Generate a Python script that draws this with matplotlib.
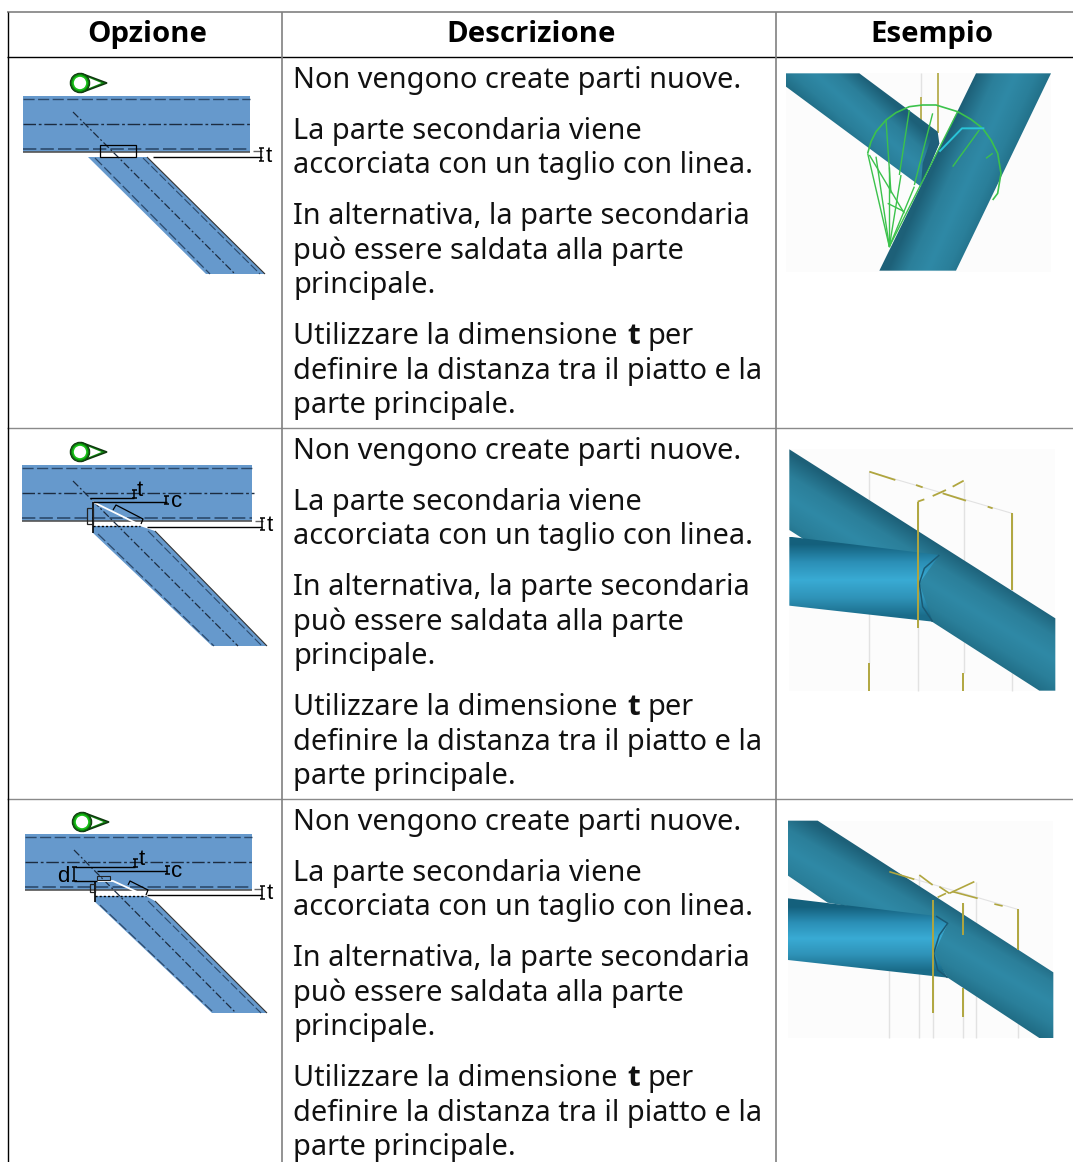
import numpy as np
from matplotlib import pyplot as plt
from matplotlib.patches import Polygon, Circle, Rectangle

plt.rcParams['font.family'] = ['Noto Sans', 'DejaVu Sans']

W, H = 1073, 1162
FS = 20.8
FS_BOLD = 21.2
BOLD_FONT = 'Open Sans'

headers = ["Opzione", "Descrizione", "Esempio"]
header_x = [147, 531, 932]
col_lines = [282, 776]
row_lines = [428, 799]
row_offsets = [0, 371, 742]

# text lines of one row, (text, baseline from row top)
body_lines = [
    ("Non vengono create parti nuove.", 88),
    ("La parte secondaria viene", 139),
    ("accorciata con un taglio con linea.", 173),
    ("In alternativa, la parte secondaria", 224),
    ("può essere saldata alla parte", 259),
    ("principale.", 293),
    ("Utilizzare la dimensione", 344),
    ("definire la distanza tra il piatto e la", 379),
    ("parte principale.", 413),
]

BLUE = '#6699cc'
TAN = '#b0a63f'
GREY = '#e2e2e2'
EDGE = '#2c4a6c'
DASH = (0, (8, 2.5))
CENTER = (0, (9, 2, 2, 2))

fig = plt.figure(figsize=(W / 100, H / 100))
ax = fig.add_axes([0, 0, 1, 1])


def line(pts, color='black', lw=1.0, ls='-', z=3):
    pts = np.array(pts)
    ax.plot(pts[:, 0], pts[:, 1], color=color, lw=lw, ls=ls, zorder=z, solid_capstyle='butt')


def dim_bar(x, y0, y1):
    line([(x, y0), (x, y1)], lw=1.1)
    line([(x - 2.5, y0), (x + 2.5, y0)], lw=1.1)
    line([(x - 2.5, y1), (x + 2.5, y1)], lw=1.1)


def label(x, y, s):
    ax.text(x, y, s, fontsize=16, family='Liberation Sans', ha='left', va='baseline', zorder=4)


def eye(cx, cy):
    ax.add_patch(Polygon([(cx + 1.5, cy - 9.5), (cx + 27, cy), (cx + 1.5, cy + 9.5)], fc='#0c8a0c', ec='#103810', lw=1.1, zorder=3))
    ax.add_patch(Polygon([(cx + 8, cy - 5.5), (cx + 21.5, cy), (cx + 8, cy + 5.5)], fc='white', ec='none', zorder=3))
    ax.add_patch(Circle((cx, cy), 9.7, fc='#0c7a0c', ec='#103810', lw=0.8, zorder=4))
    ax.add_patch(Circle((cx, cy), 7.0, fc='white', ec='#17c017', lw=1.2, zorder=5))


def beam(x0, x1, y0, y1):
    ax.add_patch(Rectangle((x0, y0), x1 - x0, y1 - y0, fc=BLUE, ec='none', zorder=1))
    line([(x0, y0 + 3), (x1, y0 + 3)], color=EDGE, ls=DASH)
    line([(x0, y1 - 3), (x1, y1 - 3)], color=EDGE, lw=1.2, ls=DASH)
    line([(x0, y1 - 0.5), (x1, y1 - 0.5)], color='#555555', lw=1.2)
    line([(x0, (y0 + y1) / 2), (x1 + 2, (y0 + y1) / 2)], color='#1c2c40', ls=CENTER)


def brace(poly, cl):
    # diagonal part with its right edge and centre line
    ax.add_patch(Polygon(poly, fc=BLUE, ec='none', zorder=1))
    line([poly[2], poly[3]], color='#333333', lw=0.8, z=2)
    line(cl, color='#1c2c40', lw=0.9, ls=(0, (6, 2, 1.5, 2)))


def detail_1():
    beam(23, 250, 96, 152)
    brace([(88, 157), (206, 274), (265, 274), (147, 157)], [(73, 112), (235, 274)])
    line([(95, 158), (210, 274)], color=EDGE, lw=0.9, ls=DASH)
    line([(143, 158), (260, 274)], color=EDGE, lw=0.8, ls=DASH)
    ax.add_patch(Rectangle((100, 145), 36, 12, fc='none', ec='black', lw=0.9, zorder=3))
    ax.add_patch(Rectangle((101, 152), 34, 4.5, fc='white', ec='none', zorder=2))
    line([(153, 157), (262, 157)], lw=1.0)
    line([(253, 151), (262, 151)], color='#666666')
    dim_bar(261, 148, 161)
    label(266, 162, "t")
    eye(80, 83)


def detail_2():
    beam(22, 252, 465, 521)
    brace([(93, 533), (212, 646), (267, 646), (155, 531), (140, 526), (93, 526)], [(73, 481), (238, 646)])
    line([(98, 534), (214, 646)], color=EDGE, lw=0.9, ls=DASH)
    line([(148, 531), (262, 646)], color=EDGE, lw=0.8, ls=DASH)
    line([(93, 502), (140, 525)], color='white', lw=1.3)
    line([(93, 526), (140, 526)], ls=(0, (1.5, 1.5)))
    line([(93, 502), (93, 533)], lw=1.2)
    ax.add_patch(Rectangle((87, 508), 6, 16, fc='none', ec='#222222', lw=0.9, zorder=3))
    line([(113, 510), (116, 505), (143, 519), (141, 524)], lw=0.9)
    line([(90, 498), (134, 498)])
    dim_bar(134, 490, 498)
    label(137, 496, "t")
    line([(93, 502), (167, 502)])
    dim_bar(166, 496, 504)
    label(171, 507, "c")
    line([(147, 526.5), (262, 526.5)])
    line([(255, 521), (263, 521)], color='#666666')
    dim_bar(262, 518, 530)
    label(267, 531, "t")
    eye(80, 452)


def detail_3():
    beam(25, 252, 834, 890)
    brace([(95, 902), (212, 1013), (267, 1013), (155, 901), (146, 896), (95, 896)], [(74, 850), (236, 1013)])
    line([(100, 905), (214, 1013)], color=EDGE, lw=0.9, ls=DASH)
    line([(148, 901), (261, 1013)], color=EDGE, lw=0.8, ls=DASH)
    line([(97, 881), (113, 881), (146, 896)], color='white', lw=1.3)
    line([(95, 895.5), (146, 895.5)], ls=(0, (1.5, 1.5)))
    line([(95, 881), (95, 902)], lw=1.2)
    ax.add_patch(Rectangle((90, 884), 5, 8, fc='none', ec='#222222', lw=0.9, zorder=3))
    ax.add_patch(Rectangle((97, 876), 13, 4, fc='none', ec='#222222', lw=0.8, zorder=3))
    line([(128, 885), (130, 881), (148, 890), (146, 895)], lw=0.9)
    line([(75, 867), (135, 867)])
    dim_bar(135, 859, 867)
    label(139, 865, "t")
    line([(97, 871), (167, 871)])
    dim_bar(167, 866, 874)
    label(171, 877, "c")
    dim_bar(74, 867, 881)
    line([(74, 881), (97, 881)])
    label(57, 882, "d")
    line([(147, 895), (262, 895)])
    line([(254, 889), (262, 889)], color='#666666')
    dim_bar(262, 886, 899)
    label(267, 899, "t")
    eye(82, 822)


def shade(poly, p0, p1, stops, z=2):
    # tube drawn as colour gradient from p0 to p1, clipped by poly
    poly = np.array(poly, float)
    x0, y0 = poly.min(axis=0)
    x1, y1 = poly.max(axis=0)
    xs, ys = np.meshgrid(np.arange(x0, x1 + 1), np.arange(y0, y1 + 1))
    p0, p1 = np.array(p0, float), np.array(p1, float)
    d = p1 - p0
    t = ((xs - p0[0]) * d[0] + (ys - p0[1]) * d[1]) / (d @ d)
    pos = np.linspace(0, 1, len(stops))
    rgb = np.array([[int(c[i:i + 2], 16) / 255 for i in (1, 3, 5)] for c in stops])
    img = np.dstack([np.interp(t, pos, rgb[:, i]) for i in range(3)])
    im = ax.imshow(img, extent=(x0, x1 + 1, y1 + 1, y0), aspect='auto', zorder=z, interpolation='bilinear')
    patch = Polygon(poly, fc='none', ec='none', transform=ax.transData)
    ax.add_patch(patch)
    im.set_clip_path(patch)


def zc(pts, ox, oy):
    return [(ox + x / 3, oy + y / 3) for x, y in pts]


TUBE_DARK = ['#1d6078', '#2b7f9a', '#2f89a6', '#2a7f9a', '#1f6a82']
TUBE_LIGHT = ['#14607c', '#2b8fb6', '#39abd4', '#2f93b8', '#1a6c8a']


def example_1():
    o = (776, 60)
    ax.add_patch(Rectangle((786, 73), 265, 199, fc='#fcfcfc', ec='none', zorder=1))
    line(zc([(435, 40), (435, 110)], *o), color=GREY, z=1.5)
    line(zc([(435, 110), (435, 200)], *o), color=TAN, lw=1.2, z=1.5)
    line(zc([(485, 40), (485, 220)], *o), color=TAN, lw=1.2, z=1.5)
    shade(zc([(600, 40), (825, 40), (540, 632), (310, 632)], *o),
          zc([(600, 40)], *o)[0], zc([(800, 130)], *o)[0], TUBE_DARK)
    b = zc([(30, 40), (250, 40), (485, 215), (490, 250), (435, 380), (30, 80)], *o)
    shade(b, zc([(250, 40)], *o)[0], zc([(130, 175)], *o)[0], TUBE_DARK, z=2.1)
    ax.add_patch(Polygon(zc([(470, 222), (490, 250), (435, 378), (440, 310)], *o), fc='#1e5f7a', ec='none', zorder=2.2))
    g = '#3cc24c'
    line(zc([(275, 280), (285, 245), (300, 215), (330, 180), (360, 158), (400, 140), (440, 135), (480, 135),
             (545, 155), (585, 178), (620, 205), (645, 240), (665, 280), (675, 340), (665, 400), (650, 420)], *o),
         color=g, lw=1.2, z=2.5)
    for tip in [(275, 280), (300, 290), (340, 320), (375, 345), (415, 380)]:
        line(zc([(340, 560), tip], *o), color=g, lw=1.0, z=2.5)
    for seg in [[(330, 180), (345, 400)], [(400, 150), (370, 345)], [(470, 160), (415, 375)],
                [(545, 155), (340, 560)], [(610, 210), (530, 320)], [(650, 280), (630, 295)],
                [(280, 285), (385, 460)], [(335, 430), (385, 455)]]:
        line(zc(seg, *o), color=g, lw=1.0, z=2.5)
    line(zc([(490, 275), (558, 205), (625, 205)], *o), color='#29c4d8', lw=1.4, z=2.6)


def example_2():
    o = (776, 440)
    ax.add_patch(Rectangle((789, 449), 266, 242, fc='#fcfcfc', ec='none', zorder=1))
    for x, y0, y1 in [(280, 95, 670), (425, 185, 752), (563, 125, 700), (708, 220, 752)]:
        line(zc([(x, y0), (x, y1)], *o), color=GREY, z=1.5)
    shade(zc([(40, 28), (838, 535), (838, 752), (790, 752), (40, 270)], *o),
          zc([(440, 282)], *o)[0], zc([(320, 480)], *o)[0], TUBE_DARK)
    shade(zc([(40, 290), (490, 345), (430, 430), (470, 545), (40, 497)], *o),
          zc([(240, 310)], *o)[0], zc([(240, 525)], *o)[0], TUBE_LIGHT, z=2.1)
    line(zc([(490, 345), (445, 385), (430, 430), (440, 500), (470, 545)], *o), color='#1a5a74', lw=1.1, z=2.3)
    line(zc([(280, 95), (708, 220)], *o), color=GREY, lw=0.8, z=1.5)
    for seg in [[(280, 95), (358, 120)], [(420, 135), (440, 142)], [(500, 160), (570, 182)], [(635, 200), (650, 205)],
                [(425, 185), (445, 178)], [(470, 168), (510, 150)], [(530, 140), (563, 122)]]:
        line(zc(seg, *o), color=TAN, lw=1.3, z=2.5)
    for x, y0, y1 in [(425, 185, 565), (708, 220, 450), (280, 670, 752), (560, 700, 752)]:
        line(zc([(x, y0), (x, y1)], *o), color=TAN, lw=1.4, z=2.5)


def example_3():
    o = (776, 810)
    ax.add_patch(Rectangle((788, 821), 265, 217, fc='#fcfcfc', ec='none', zorder=1))
    for x, y0, y1 in [(340, 185, 684), (430, 195, 684), (470, 260, 684), (562, 280, 684), (600, 215, 684), (725, 298, 684)]:
        line(zc([(x, y0), (x, y1)], *o), color=GREY, z=1.5)
    shade(zc([(36, 32), (125, 32), (832, 487), (832, 684), (790, 684), (515, 503), (470, 430), (515, 340),
              (155, 278), (36, 197)], *o),
          zc([(440, 230)], *o)[0], zc([(330, 420)], *o)[0], TUBE_DARK)
    shade(zc([(36, 265), (480, 318), (515, 340), (475, 430), (515, 503), (36, 450)], *o),
          zc([(240, 290)], *o)[0], zc([(240, 480)], *o)[0], TUBE_LIGHT, z=2.1)
    line(zc([(480, 318), (515, 340), (490, 375), (473, 430), (485, 480), (515, 503)], *o), color='#1a5a74', lw=1.1, z=2.3)
    line(zc([(340, 185), (725, 298)], *o), color=GREY, lw=0.8, z=1.5)
    for seg in [[(340, 185), (415, 208)], [(430, 195), (470, 225)], [(490, 230), (520, 250)], [(520, 250), (595, 215)],
                [(530, 245), (605, 265)], [(655, 282), (680, 288)], [(485, 262), (510, 250)]]:
        line(zc(seg, *o), color=TAN, lw=1.2, z=2.5)
    for x, y0, y1 in [(470, 270, 608), (562, 280, 375), (562, 535, 622), (725, 298, 420)]:
        line(zc([(x, y0), (x, y1)], *o), color=TAN, lw=1.4, z=2.5)


# table grid
line([(7, 12), (W, 12)], color='#808080', lw=1.2, z=0.5)
line([(7, 57), (W, 57)], lw=1.0, z=0.5)
for y in row_lines:
    line([(7, y), (W, y)], color='#8a8a8a', lw=1.0, z=0.5)
line([(7.5, 12), (7.5, H)], lw=1.0, z=0.5)
for x in col_lines:
    line([(x, 12), (x, H)], color='#808080', lw=1.2, z=0.5)

for s, x in zip(headers, header_x):
    ax.text(x, 42, s, fontsize=FS_BOLD, family=BOLD_FONT, fontweight='bold', ha='center', va='baseline')

for off in row_offsets:
    for s, y in body_lines:
        ax.text(293, y + off, s, fontsize=FS, ha='left', va='baseline', color='#111111')
    ax.text(627, 344 + off, "t", fontsize=FS_BOLD, family=BOLD_FONT, fontweight='bold', ha='left', va='baseline', color='#111111')
    ax.text(647, 344 + off, "per", fontsize=FS, ha='left', va='baseline', color='#111111')

detail_1()
detail_2()
detail_3()
example_1()
example_2()
example_3()

ax.set_xlim(0, W)
ax.set_ylim(H, 0)
ax.axis('off')
plt.savefig("out.png", dpi=100)
